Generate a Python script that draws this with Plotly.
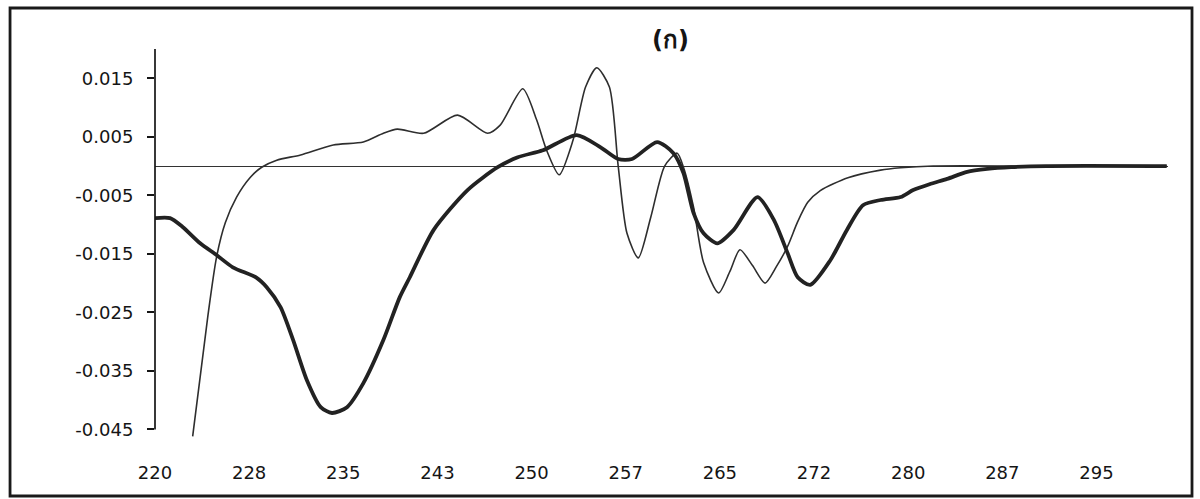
import plotly.graph_objects as go

# Wavelength (nm) and first-derivative values for the two spectra
wl_thin = [223.0, 224.2, 224.9, 225.6, 226.5, 227.6, 228.5, 229.7, 231.6, 234.2,
           236.6, 238.2, 239.3, 241.4, 244.1, 246.5, 247.5, 249.3, 250.4, 251.2,
           252.2, 253.3, 254.3, 255.2, 256.2, 256.9, 257.6, 258.5, 259.5, 260.6,
           261.6, 262.1, 262.9, 263.7, 264.9, 265.8, 266.6, 267.6, 268.6, 269.5,
           270.4, 271.2, 272.0, 273.0, 275.2, 277.8, 279.4, 282.0, 290.0, 300.6]
val_thin = [-0.0462, -0.0258, -0.0156, -0.0097, -0.0053, -0.0019, -0.0002, 0.0010, 0.0019, 0.0036,
            0.0041, 0.0056, 0.0063, 0.0056, 0.0087, 0.0056, 0.0070, 0.0132, 0.0079, 0.0027,
            -0.0015, 0.0044, 0.0135, 0.0168, 0.0135, 0.0000, -0.0115, -0.0157, -0.0087, 0.0000,
            0.0022, -0.0002, -0.0070, -0.0165, -0.0217, -0.0180, -0.0143, -0.0170, -0.0200, -0.0172,
            -0.0137, -0.0095, -0.0062, -0.0042, -0.0020, -0.0007, -0.0003, 0.0000, 0.0000, 0.0000]

wl_thick = [220.0, 221.2, 222.2, 223.6, 224.9, 226.2, 228.1, 228.9, 230.0, 231.0,
            232.1, 233.2, 234.1, 235.3, 236.6, 238.2, 239.5, 240.3, 242.2, 244.9,
            247.3, 248.9, 250.9, 253.6, 255.5, 256.9, 258.0, 260.0, 261.3, 262.1,
            262.9, 263.7, 264.8, 266.1, 268.0, 269.3, 270.4, 271.2, 272.2, 273.8,
            275.1, 276.4, 277.8, 279.4, 280.4, 281.7, 283.1, 284.7, 286.3, 288.2,
            291.0, 300.6]
val_thick = [-0.0089, -0.0089, -0.0104, -0.0132, -0.0152, -0.0173, -0.0191, -0.0207, -0.0241, -0.0297,
             -0.0366, -0.0412, -0.0422, -0.0412, -0.0371, -0.0297, -0.0224, -0.0190, -0.0109, -0.0041,
             -0.0002, 0.0015, 0.0027, 0.0053, 0.0032, 0.0012, 0.0012, 0.0041, 0.0022, -0.0012,
             -0.0080, -0.0115, -0.0132, -0.0109, -0.0053, -0.0092, -0.0149, -0.0190, -0.0203, -0.0161,
             -0.0110, -0.0067, -0.0058, -0.0053, -0.0041, -0.0031, -0.0022, -0.0010, -0.0005, -0.0002,
             0.0000, 0.0000]

x_tick_vals = [220, 227.5, 235, 242.5, 250, 257.5, 265, 272.5, 280, 287.5, 295]
x_tick_text = ["220", "228", "235", "243", "250", "257", "265", "272", "280", "287", "295"]
y_tick_vals = [0.015, 0.005, -0.005, -0.015, -0.025, -0.035, -0.045]
y_tick_text = ["0.015", "0.005", "-0.005", "-0.015", "-0.025", "-0.035", "-0.045"]

title_text = "(ก)"

FONT = "DejaVu Sans"
INK = "#151515"

fig = go.Figure()
fig.add_trace(go.Scatter(
    x=wl_thin, y=val_thin, mode="lines",
    line=dict(color="#2e2e2e", width=1.6, shape="spline", smoothing=0.7),
    showlegend=False, hoverinfo="skip"))
fig.add_trace(go.Scatter(
    x=wl_thick, y=val_thick, mode="lines",
    line=dict(color="#222222", width=3.8, shape="spline", smoothing=0.7),
    showlegend=False, hoverinfo="skip"))

y_lo, y_hi = -0.0463, 0.0200

fig.update_layout(
    width=1200, height=499,
    margin=dict(l=155, r=32, t=49, b=62),
    paper_bgcolor="white", plot_bgcolor="white",
    xaxis=dict(range=[220, 300.7], showgrid=False, zeroline=False, showline=False,
               tickmode="array", tickvals=x_tick_vals, ticktext=x_tick_text,
               ticks="", ticklabelstandoff=23,
               tickfont=dict(family=FONT, size=18, color=INK)),
    yaxis=dict(range=[y_lo, y_hi], showgrid=False, showline=False,
               zeroline=True, zerolinecolor="#333333", zerolinewidth=1.4,
               tickmode="array", tickvals=y_tick_vals, ticktext=y_tick_text,
               ticks="outside", ticklen=7, tickwidth=1.6, tickcolor=INK,
               ticklabelstandoff=10,
               tickfont=dict(family=FONT, size=18, color=INK)),
    shapes=[
        # vertical value axis, stopping at the lowest tick
        dict(type="line", xref="paper", yref="y", x0=0, x1=0, y0=-0.045, y1=y_hi,
             line=dict(color=INK, width=1.7)),
        # outer chart frame
        dict(type="rect", xref="paper", yref="paper",
             x0=-0.1431, x1=1.0237, y0=-0.152, y1=1.1057,
             line=dict(color="#1a1a1a", width=2.8)),
    ],
    annotations=[
        dict(text="<b>" + title_text + "</b>", xref="paper", yref="paper",
             x=(670 - 155) / 1013, y=(437 - 40) / 388, xanchor="center", yanchor="middle",
             showarrow=False, font=dict(family="DejaVu Sans, Noto Sans", size=24, color=INK)),
    ],
)

fig.write_html("out.html")
